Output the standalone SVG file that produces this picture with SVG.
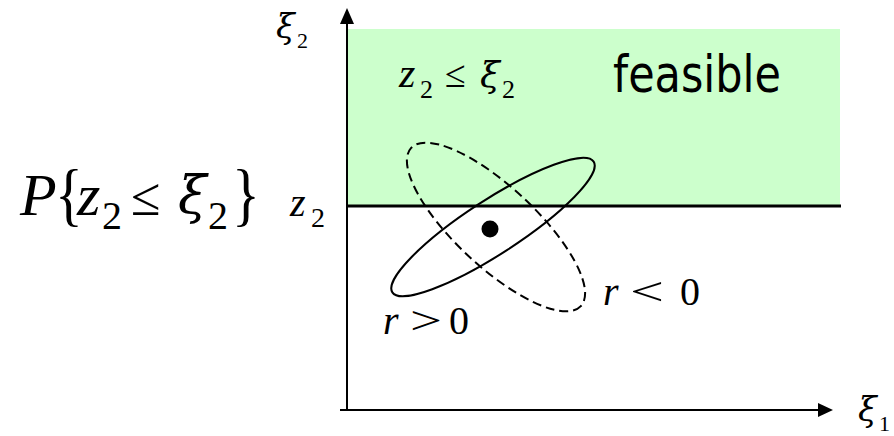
<svg xmlns="http://www.w3.org/2000/svg" width="894" height="436" viewBox="0 0 894 436">
<style>
.m{font-family:"Liberation Serif","Times New Roman",serif;font-style:italic;fill:#000}
.g{font-family:"DejaVu Serif","Liberation Serif",serif;font-style:italic;fill:#000}
.n{font-family:"Liberation Serif","Times New Roman",serif;fill:#000}
.s{font-family:"DejaVu Sans",Tahoma,sans-serif;fill:#000}
.ax{stroke:#000;stroke-width:2;fill:none}
.el{stroke:#000;stroke-width:2;fill:none}
</style>
<g id="feasible-region">
<rect x="347" y="29" width="493" height="177" fill="#CCFFCC"/>
<text class="s" x="613" y="92" font-size="52" textLength="168" lengthAdjust="spacingAndGlyphs">feasible</text>
<text class="m" x="399" y="87" font-size="42">z</text>
<text class="n" x="420" y="98" font-size="26">2</text>
<text class="n" x="445" y="87" font-size="38">≤</text>
<text class="g" x="480" y="87" font-size="36">ξ</text>
<text class="n" x="502" y="98" font-size="26">2</text>
</g>
<g id="connectors">
<line class="ax" x1="347" y1="411" x2="347" y2="24"/>
<path d="M340,24 L354,24 L347,8 Z" fill="#000"/>
<line class="ax" x1="340" y1="410" x2="818" y2="410"/>
<path d="M818,403 L818,417 L833,410 Z" fill="#000"/>
<line x1="347" y1="206" x2="841" y2="206" stroke="#000" stroke-width="3"/>
</g>
<g id="ellipses">
<ellipse class="el" cx="493" cy="227" rx="120" ry="27" transform="rotate(-33 493 227)"/>
<ellipse class="el" cx="496" cy="227" rx="116" ry="40" transform="rotate(43 496 227)" stroke-dasharray="9 5"/>
<circle cx="490" cy="229" r="8.5" fill="#000"/>
</g>
<g id="axis-labels">
<text class="g" x="276" y="38" font-size="34">ξ</text>
<text class="n" x="297" y="48" font-size="22">2</text>
<text class="g" x="858" y="421" font-size="34">ξ</text>
<text class="n" x="879" y="431" font-size="22">1</text>
<text class="m" x="290" y="216" font-size="40">z</text>
<text class="n" x="311" y="227" font-size="28">2</text>
</g>
<g id="probability">
<text class="m" x="20" y="215" font-size="60">P</text>
<text class="n" transform="translate(55,218) scale(1,1.2)" font-size="58">{</text>
<text class="m" x="77" y="215" font-size="60">z</text>
<text class="n" x="102" y="229" font-size="40">2</text>
<text class="n" x="131" y="215" font-size="54">≤</text>
<text class="g" x="178" y="213" font-size="52">ξ</text>
<text class="n" x="208" y="229" font-size="40">2</text>
<text class="n" transform="translate(232,218) scale(1,1.2)" font-size="58">}</text>
</g>
<g id="r-labels">
<text class="m" x="603" y="305" font-size="40">r</text>
<text class="n" x="630" y="305" font-size="40" textLength="34" lengthAdjust="spacingAndGlyphs">&lt;</text>
<text class="n" x="680" y="305" font-size="40">0</text>
<text class="m" x="383" y="334" font-size="40">r</text>
<text class="n" x="410" y="334" font-size="40" textLength="32" lengthAdjust="spacingAndGlyphs">&gt;</text>
<text class="n" x="449" y="334" font-size="40">0</text>
</g>
</svg>
